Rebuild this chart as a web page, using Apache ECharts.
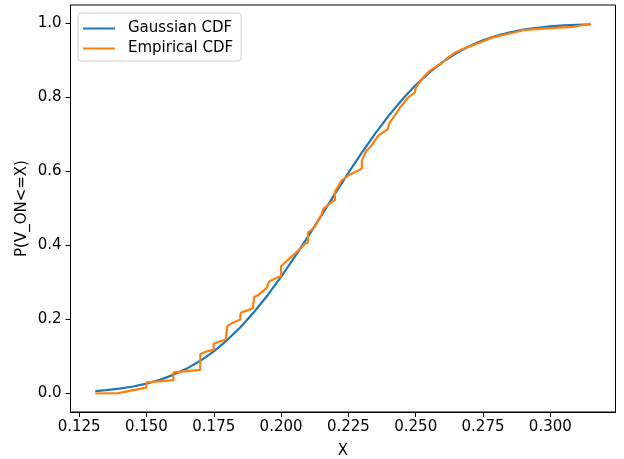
<!DOCTYPE html>
<html>
<head>
<meta charset="utf-8">
<script src="https://cdn.jsdelivr.net/npm/echarts@6/dist/echarts.min.js"></script>
<style>
html,body{margin:0;padding:0;background:#fff;}
#chart{width:624px;height:459px;}
</style>
</head>
<body>
<div id="chart"></div>
<script>
// Gaussian CDF curve
const gaussX = [0.131,0.135,0.140,0.145,0.150,0.155,0.160,0.165,0.170,0.175,0.180,0.185,0.190,0.195,0.200,0.205,0.210,0.215,0.220,0.225,0.230,0.235,0.240,0.245,0.250,0.255,0.260,0.265,0.270,0.275,0.280,0.285,0.290,0.295,0.300,0.305,0.310,0.315];
const gaussY = [0.0066,0.0090,0.0132,0.0190,0.0268,0.0371,0.0504,0.0673,0.0884,0.1139,0.1444,0.1799,0.2204,0.2657,0.3153,0.3684,0.4242,0.4816,0.5393,0.5962,0.6511,0.7030,0.7511,0.7948,0.8335,0.8672,0.8958,0.9197,0.9392,0.9548,0.9670,0.9763,0.9833,0.9885,0.9922,0.9948,0.9966,0.9978];

// Empirical CDF
const empX = [0.131,0.1395,0.140,0.150,0.150,0.160,0.160,0.170,0.170,0.1725,0.175,0.175,0.1795,0.180,0.180,0.1815,0.1848,0.185,0.1895,0.190,0.190,0.1915,0.1946,0.1956,0.1990,0.200,0.200,0.2015,0.2033,0.2055,0.209,0.210,0.210,0.2125,0.2150,0.2157,0.2187,0.220,0.220,0.2224,0.2249,0.2274,0.230,0.230,0.2317,0.2336,0.2361,0.2380,0.2398,0.240,0.2430,0.2442,0.2472,0.2497,0.250,0.2527,0.2552,0.259,0.2601,0.2613,0.2638,0.2648,0.2688,0.2737,0.2786,0.2836,0.2885,0.290,0.2983,0.3083,0.3108,0.315];
const empY = [0.000,0.001,0.006,0.016,0.030,0.036,0.057,0.064,0.106,0.114,0.118,0.135,0.146,0.150,0.182,0.189,0.200,0.218,0.230,0.232,0.260,0.266,0.285,0.303,0.315,0.317,0.344,0.354,0.366,0.380,0.405,0.408,0.435,0.450,0.483,0.499,0.517,0.522,0.545,0.575,0.589,0.598,0.608,0.630,0.656,0.670,0.697,0.706,0.716,0.729,0.760,0.773,0.800,0.814,0.826,0.854,0.872,0.890,0.895,0.904,0.917,0.922,0.935,0.948,0.962,0.971,0.979,0.982,0.987,0.991,0.994,0.999];

const xTicks = [0.125,0.150,0.175,0.200,0.225,0.250,0.275,0.300];
const yTicks = [0.0,0.2,0.4,0.6,0.8,1.0];

const seriesNames = ['Gaussian CDF','Empirical CDF'];
const colors = ['#1f77b4','#ff7f0e'];

const font = 'DejaVu Sans';
const fs = 15;
const chart = echarts.init(document.getElementById('chart'), null, {renderer:'canvas'});
chart.setOption({
  animation:false,
  backgroundColor:'#fff',
  color: colors,
  grid:{left:70.5,right:8.5,top:5,bottom:47,show:true,borderColor:'#000',borderWidth:1,backgroundColor:'transparent',containLabel:false,outerBoundsMode:'none'},
  legend:{
    orient:'vertical', left:78, top:13,
    data: seriesNames,
    icon:'rect', itemWidth:32, itemHeight:2, itemGap:5,
    padding:[8,8,5,5],
    borderColor:'#d0d0d0', borderWidth:1, borderRadius:3,
    backgroundColor:'rgba(255,255,255,0.8)',
    textStyle:{fontFamily:font,fontSize:fs,color:'#000',padding:[0,0,0,8]}
  },
  xAxis:{
    type:'value', min:0.1218, max:0.3242,
    name:'X', nameLocation:'middle', nameGap:32,
    nameTextStyle:{fontFamily:font,fontSize:fs,color:'#000'},
    axisLine:{show:true,onZero:false,lineStyle:{color:'#000',width:1}},
    axisTick:{show:true,length:5,lineStyle:{color:'#000'},customValues:xTicks},
    axisLabel:{fontFamily:font,fontSize:fs,color:'#000',margin:8,customValues:xTicks,formatter:v=>v.toFixed(3)},
    splitLine:{show:false}
  },
  yAxis:{
    type:'value', min:-0.05, max:1.05,
    name:'P(V_ON<=X)', nameLocation:'middle', nameGap:41,nameRotate:90,nameMoveOverlap:false,
    nameTextStyle:{fontFamily:font,fontSize:fs,color:'#000'},
    axisLine:{show:true,onZero:false,lineStyle:{color:'#000',width:1}},
    axisTick:{show:true,length:5,lineStyle:{color:'#000'},customValues:yTicks},
    axisLabel:{fontFamily:font,fontSize:fs,color:'#000',margin:9,customValues:yTicks,formatter:v=>v.toFixed(1)},
    splitLine:{show:false}
  },
  series:[
    {name:seriesNames[0],type:'line',showSymbol:false,symbol:'none',
     data:gaussX.map((x,i)=>[x,gaussY[i]]),lineStyle:{width:2.2,color:colors[0]},z:2},
    {name:seriesNames[1],type:'line',showSymbol:false,symbol:'none',
     data:empX.map((x,i)=>[x,empY[i]]),lineStyle:{width:2.2,color:colors[1]},z:3}
  ]
});
</script>
</body>
</html>
